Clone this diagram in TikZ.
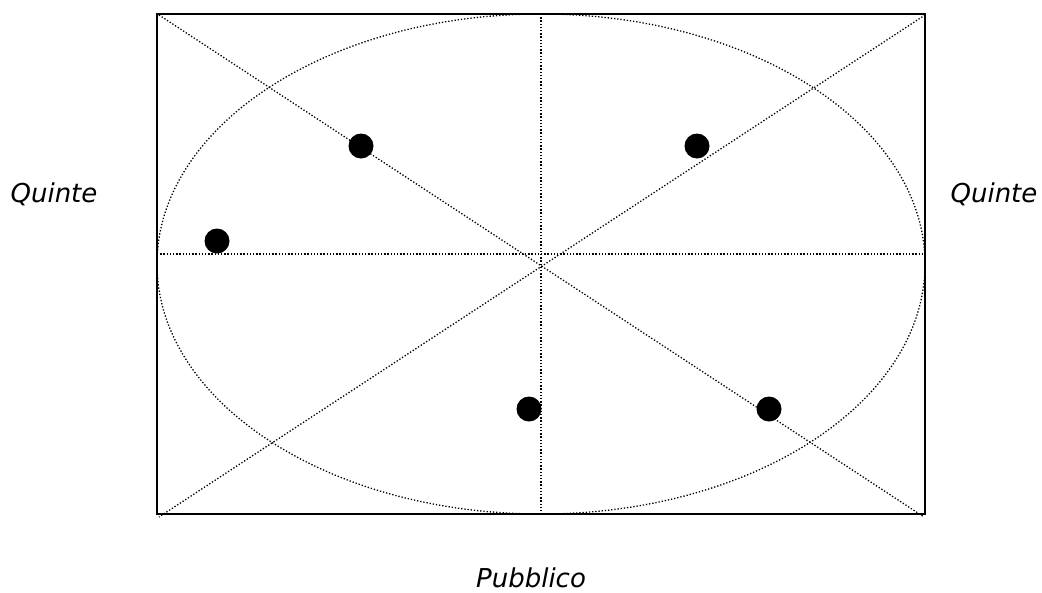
\documentclass[tikz,border=0pt]{standalone}
\usepackage{fontspec}
\setmainfont{DejaVu Sans}
\begin{document}
\begin{tikzpicture}[x=1pt,y=-1pt,
  frame/.style={draw=black,line width=2pt},
  guide/.style={draw=black,line width=1.3pt,dash pattern=on 1.3pt off 1.9pt},
  actor/.style={circle,fill=black,inner sep=0pt,minimum size=25pt},
  label/.style={font=\fontsize{26}{30}\selectfont\itshape,inner sep=0pt}]
\useasboundingbox (0,0) rectangle (1042,592);
\coordinate (tl) at (157,14);
\coordinate (tr) at (925,14);
\coordinate (bl) at (157,514);
\coordinate (br) at (925,514);
\coordinate (dtl) at (159,15);
\coordinate (dtr) at (925,15);
\coordinate (dbl) at (159,517);
\coordinate (dbr) at (924,517);
\coordinate (ml) at (157,254);
\coordinate (mr) at (925,254);
\coordinate (mt) at (541,14);
\coordinate (mb) at (541,514);
\draw[guide] (541,264) ellipse [x radius=384, y radius=250];
\draw[guide] (dtl) -- (dbr);
\draw[guide] (dtr) -- (dbl);
\draw[guide] (ml) -- (mr);
\draw[guide] (mt) -- (mb);
\draw[frame] (tl) rectangle (br);
\node[actor] (a1) at (361,146) {};
\node[actor] (a2) at (697,146) {};
\node[actor] (a3) at (217,241) {};
\node[actor] (a4) at (529,409) {};
\node[actor] (a5) at (769,409) {};
\node[label] (ql) at (54,194) {Quinte};
\node[label] (qr) at (994,194) {Quinte};
\node[label] (pb) at (531,578) {Pubblico};
\end{tikzpicture}
\end{document}
